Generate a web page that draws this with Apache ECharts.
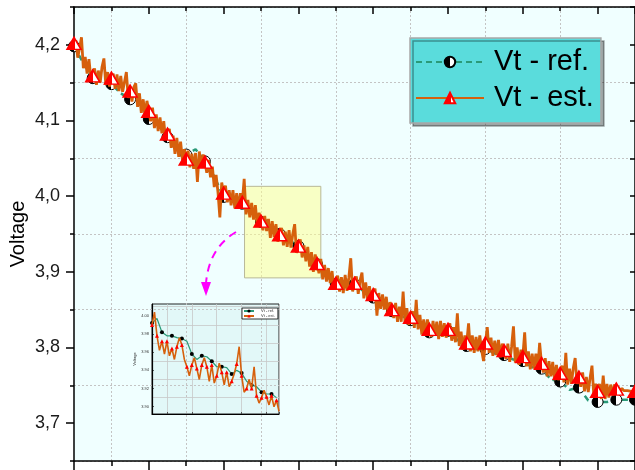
<!DOCTYPE html>
<html><head><meta charset="utf-8">
<script src="https://cdn.jsdelivr.net/npm/echarts@6/dist/echarts.min.js"></script>
<style>html,body{margin:0;padding:0;background:#fff}#c{width:635px;height:470px}</style>
</head><body><div id="c"></div>
<script>
// ---- data ----
const seriesNames = ['Vt - ref.', 'Vt - est.'];
const insetNames = ['Vt - ref. ', 'Vt - est. '];
const yTickValues = [3.7, 3.8, 3.9, 4.0, 4.1, 4.2];
const yTickLabels = ['3,7', '3,8', '3,9', '4,0', '4,1', '4,2'];
const xRange = [0, 750];
const yRange = [3.65, 4.25];
const insetXRange = [228, 330];
const insetYRange = [3.892, 4.013];

// Vt - est. sampled every 2.5 units starting at 0
const estStart = 0, estStep = 2.5;
const vtEst = [
  4.202, 4.206, 4.183, 4.196, 4.210, 4.169, 4.184, 4.162, 4.181, 4.156,
  4.159, 4.169, 4.147, 4.166, 4.150, 4.171, 4.182, 4.147, 4.164, 4.145,
  4.156, 4.162, 4.142, 4.161, 4.139, 4.159, 4.138, 4.151, 4.164, 4.130,
  4.139, 4.125, 4.144, 4.149, 4.118, 4.136, 4.110, 4.128, 4.107, 4.126,
  4.112, 4.099, 4.117, 4.090, 4.108, 4.086, 4.104, 4.083, 4.099, 4.075,
  4.082, 4.089, 4.064, 4.080, 4.056, 4.077, 4.052, 4.072, 4.048, 4.062,
  4.049, 4.060, 4.038, 4.056, 4.036, 4.057, 4.019, 4.059, 4.038, 4.055,
  4.045, 4.031, 4.048, 4.025, 4.039, 4.012, 4.028, 4.005, 3.972, 4.018,
  4.004, 4.014, 3.992, 4.008, 3.988, 4.008, 3.984, 4.004, 3.984, 4.004,
  3.992, 4.023, 3.976, 3.995, 3.972, 3.991, 3.969, 3.988, 3.961, 3.978,
  3.967, 3.955, 3.974, 3.954, 3.970, 3.945, 3.967, 3.946, 3.963, 3.940,
  3.949, 3.958, 3.935, 3.953, 3.933, 3.955, 3.932, 3.950, 3.963, 3.925,
  3.934, 3.943, 3.919, 3.935, 3.914, 3.933, 3.907, 3.926, 3.900, 3.923,
  3.911, 3.898, 3.917, 3.890, 3.909, 3.887, 3.905, 3.885, 3.901, 3.878,
  3.885, 3.895, 3.874, 3.893, 3.872, 3.896, 3.875, 3.893, 3.918, 3.874,
  3.885, 3.894, 3.871, 3.889, 3.899, 3.865, 3.886, 3.864, 3.881, 3.862,
  3.870, 3.878, 3.842, 3.872, 3.851, 3.870, 3.850, 3.867, 3.844, 3.860,
  3.850, 3.839, 3.859, 3.834, 3.854, 3.834, 3.874, 3.833, 3.852, 3.830,
  3.840, 3.848, 3.826, 3.863, 3.824, 3.843, 3.817, 3.837, 3.817, 3.837,
  3.824, 3.814, 3.835, 3.816, 3.834, 3.811, 3.835, 3.814, 3.832, 3.813,
  3.824, 3.832, 3.809, 3.827, 3.807, 3.845, 3.802, 3.821, 3.797, 3.816,
  3.806, 3.832, 3.795, 3.816, 3.793, 3.814, 3.795, 3.816, 3.796, 3.782,
  3.806, 3.827, 3.793, 3.813, 3.789, 3.809, 3.790, 3.810, 3.787, 3.805,
  3.796, 3.785, 3.805, 3.781, 3.801, 3.828, 3.780, 3.800, 3.777, 3.797,
  3.788, 3.820, 3.775, 3.795, 3.771, 3.792, 3.772, 3.792, 3.771, 3.806,
  3.779, 3.767, 3.786, 3.762, 3.782, 3.762, 3.781, 3.757, 3.777, 3.757,
  3.766, 3.776, 3.754, 3.793, 3.751, 3.772, 3.752, 3.773, 3.786, 3.752,
  3.761, 3.748, 3.767, 3.742, 3.761, 3.741, 3.760, 3.776, 3.735, 3.752,
  3.742, 3.752, 3.732, 3.763, 3.732, 3.752, 3.734, 3.751, 3.737, 3.751,
  3.745, 3.748, 3.742, 3.746, 3.743, 3.745, 3.743, 3.744, 3.742, 3.743,
  3.742
];
// Vt - ref. sampled every 12.5 units starting at 0
const refStart = 0, refStep = 12.5;
const vtRef = [
  4.198, 4.176, 4.156, 4.150, 4.148, 4.136, 4.128, 4.124, 4.102, 4.096,
  4.078, 4.064, 4.055, 4.062, 4.046, 4.026, 3.999, 3.994, 3.990, 3.978,
  3.966, 3.960, 3.950, 3.942, 3.934, 3.922, 3.910, 3.894, 3.884, 3.882,
  3.884, 3.874, 3.866, 3.856, 3.848, 3.842, 3.836, 3.828, 3.820, 3.818,
  3.822, 3.810, 3.802, 3.798, 3.798, 3.792, 3.790, 3.784, 3.782, 3.774,
  3.772, 3.758, 3.755, 3.744, 3.747, 3.730, 3.728, 3.728, 3.731, 3.731,
  3.731
];
// inset (zoomed) data
const insetEstStart = 228, insetEstStep = 2;
const insetEst = [
  3.990, 4.004, 3.978, 3.962, 3.972, 3.958, 3.972, 3.956, 3.964, 3.952,
  3.966, 3.976, 3.968, 3.952, 3.944, 3.934, 3.946, 3.954, 3.942, 3.930,
  3.946, 3.954, 3.944, 3.928, 3.946, 3.926, 3.934, 3.948, 3.938, 3.924,
  3.938, 3.922, 3.928, 3.936, 3.947, 3.966, 3.934, 3.916, 3.920, 3.930,
  3.920, 3.944, 3.912, 3.904, 3.910, 3.918, 3.911, 3.902, 3.912, 3.900,
  3.907, 3.895
];
const insetRefStart = 228, insetRefStep = 4;
const insetRef = [
  3.992, 3.997, 3.982, 3.978, 3.978, 3.976, 3.975, 3.972, 3.958, 3.952,
  3.956, 3.955, 3.950, 3.944, 3.944, 3.943, 3.936, 3.940, 3.937, 3.928,
  3.924, 3.922, 3.916, 3.914, 3.914, 3.910
];

// ---- build ----
const pairs = (start, step, vals) => vals.map((v, i) => [start + i * step, v]);
const FONT = "'Liberation Sans', Arial, sans-serif";
const halfFill = (a, b, s) => new echarts.graphic.LinearGradient(0, 0, 1, 0, [
  {offset: 0, color: a}, {offset: s, color: a}, {offset: s, color: b}, {offset: 1, color: b}]);
const black = {color: '#000', width: 1.5};
const gridDot = {color: '#c4c4c4', type: [2, 2], width: 1};

const chart = echarts.init(document.getElementById('c'), null, {renderer: 'canvas'});
chart.setOption({
  animation: false,
  backgroundColor: '#ffffff',
  grid: [
    {left: 74, top: 7, right: -2, bottom: 9, show: true, backgroundColor: '#f0ffff', borderWidth: 0},
    {left: 152, top: 304, width: 127, height: 110, show: true, backgroundColor: '#e2f8f8', borderColor: '#222', borderWidth: 1}
  ],
  legend: [
    {data: seriesNames, orient: 'vertical', left: 410, top: 38, padding: [9, 7, 10, 5], itemGap: 6,
     itemWidth: 68, itemHeight: 13, selectedMode: false,
     backgroundColor: '#5adcdc', borderColor: '#a8a8a8', borderWidth: 1.5,
     shadowColor: 'rgba(0,0,0,0.35)', shadowOffsetX: 3, shadowOffsetY: 3, shadowBlur: 0,
     textStyle: {fontSize: 29, fontFamily: FONT, color: '#000', lineHeight: 30, padding: [0, 0, 0, 5]}},
    {data: insetNames, orient: 'vertical', left: 242, top: 308, padding: [1, 2, 1, 1], itemGap: 1,
     itemWidth: 10, itemHeight: 4, selectedMode: false,
     backgroundColor: '#ffffff', borderColor: '#000', borderWidth: 0.8,
     textStyle: {fontSize: 4, fontFamily: FONT, color: '#333', padding: [0, 0, 0, 2]}}
  ],
  xAxis: [
    {gridIndex: 0, type: 'value', position: 'bottom', min: xRange[0], max: xRange[1], interval: 100,
     axisLine: {lineStyle: black}, axisTick: {length: 9, lineStyle: black},
     minorTick: {show: true, splitNumber: 2, length: 5, lineStyle: black},
     axisLabel: {show: false}, splitLine: {show: false},
     minorSplitLine: {show: true, lineStyle: gridDot}},
    {gridIndex: 0, type: 'value', position: 'top', min: xRange[0], max: xRange[1], interval: 100,
     axisLine: {lineStyle: black}, axisTick: {inside: true, length: 7, lineStyle: black},
     minorTick: {show: true, splitNumber: 2, length: 4, lineStyle: black},
     axisLabel: {show: false}, splitLine: {show: false}},
    {gridIndex: 1, type: 'value', min: insetXRange[0], max: insetXRange[1],
     axisLine: {lineStyle: {color: '#000', width: 1.2}}, axisTick: {inside: true, length: 2, lineStyle: {color: '#000', width: 0.6}},
     axisLabel: {show: false}, splitLine: {show: true, lineStyle: {color: '#c8c8c8', width: 0.8}}}
  ],
  yAxis: [
    {gridIndex: 0, type: 'value', position: 'left', min: yRange[0], max: yRange[1], interval: 0.1,
     axisLine: {show: true, lineStyle: black}, axisTick: {length: 4, lineStyle: black},
     minorTick: {show: true, splitNumber: 2, length: 8, lineStyle: black},
     axisLabel: {show: false}, splitLine: {show: true, lineStyle: gridDot},
     name: 'Voltage', nameLocation: 'middle', nameGap: 46, nameRotate: 90,
     nameTextStyle: {fontSize: 20, fontFamily: FONT, color: '#000'}},
    {gridIndex: 0, type: 'value', position: 'left', min: yRange[0], max: yRange[1], interval: 0.05,
     axisLine: {show: false}, axisTick: {show: false}, splitLine: {show: false},
     axisLabel: {margin: 14, fontSize: 18, fontFamily: FONT, color: '#1a1a1a',
       formatter: v => { const k = yTickValues.findIndex(t => Math.abs(t - v) < 1e-6); return k < 0 ? '' : yTickLabels[k]; }}},
    {gridIndex: 0, type: 'value', position: 'right', min: yRange[0], max: yRange[1], interval: 0.05,
     axisLine: {show: true, lineStyle: black}, axisTick: {inside: true, length: 5, lineStyle: black},
     axisLabel: {show: false}, splitLine: {show: false}},
    {gridIndex: 1, type: 'value', min: insetYRange[0], max: insetYRange[1],
     axisLine: {show: true, lineStyle: {color: '#000', width: 1.2}}, axisTick: {inside: true, length: 2, lineStyle: {color: '#000', width: 0.6}},
     axisLabel: {fontSize: 4, fontFamily: FONT, color: '#333', margin: 3, showMinLabel: false, showMaxLabel: false,
       formatter: v => v.toFixed(2)},
     splitLine: {show: false}, minorSplitLine: {show: true, lineStyle: {color: '#c8c8c8', width: 0.8}},
     minorTick: {show: false, splitNumber: 2},
     name: 'Voltage', nameLocation: 'middle', nameGap: 13, nameRotate: 90,
     nameTextStyle: {fontSize: 4, fontFamily: FONT, color: '#333'}}
  ],
  series: [
    {name: seriesNames[0], type: 'line', xAxisIndex: 0, yAxisIndex: 0, z: 2,
     data: pairs(refStart, refStep, vtRef), showAllSymbol: true, symbol: 'circle',
     symbolSize: (v, p) => p.dataIndex % 2 === 0 ? 11 : 0,
     lineStyle: {color: '#2a9a78', width: 2.5, type: [6, 4]},
     itemStyle: {color: halfFill('#000', '#fff', 0.5), borderColor: '#000', borderWidth: 1}},
    {name: seriesNames[1], type: 'line', xAxisIndex: 0, yAxisIndex: 0, z: 3,
     data: pairs(estStart, estStep, vtEst), showAllSymbol: true, symbol: 'triangle',
     symbolSize: (v, p) => p.dataIndex % 10 === 0 ? [14, 12] : 0,
     lineStyle: {color: '#d6600c', width: 2.8},
     itemStyle: {color: halfFill('#ff0000', '#ffffff', 0.55), borderColor: '#ff0000', borderWidth: 1.5}},
    {name: 'zoom box', type: 'line', xAxisIndex: 0, yAxisIndex: 0, z: 5, data: [], silent: true,
     markArea: {silent: true, itemStyle: {color: 'rgba(255,255,140,0.5)', borderColor: '#b8b898', borderWidth: 1},
       data: [[{coord: [insetXRange[0], insetYRange[1]]}, {coord: [insetXRange[1], insetYRange[0]]}]]}},
    {name: insetNames[0], type: 'line', xAxisIndex: 2, yAxisIndex: 3, z: 6,
     data: pairs(insetRefStart, insetRefStep, insetRef), showAllSymbol: true, symbol: 'circle',
     symbolSize: (v, p) => p.dataIndex % 2 === 0 ? 4 : 0,
     lineStyle: {color: '#2a9a78', width: 1.2}, itemStyle: {color: '#000'}},
    {name: insetNames[1], type: 'line', xAxisIndex: 2, yAxisIndex: 3, z: 7,
     data: pairs(insetEstStart, insetEstStep, insetEst), showAllSymbol: true, symbol: 'triangle',
     symbolSize: (v, p) => p.dataIndex % 2 === 0 ? 4 : 0,
     lineStyle: {color: '#d6600c', width: 1.6}, itemStyle: {color: '#ff0000'}}
  ],
  graphic: [
    {type: 'bezierCurve', z: 10, shape: {x1: 236, y1: 232, cpx1: 209, cpy1: 248, x2: 206, y2: 283},
     style: {stroke: '#ff00ff', lineWidth: 2, lineDash: [8, 6], fill: null}},
    {type: 'polygon', z: 10, shape: {points: [[201, 282], [211, 282], [206, 296]]}, style: {fill: '#ff00ff'}}
  ]
});
</script></body></html>
